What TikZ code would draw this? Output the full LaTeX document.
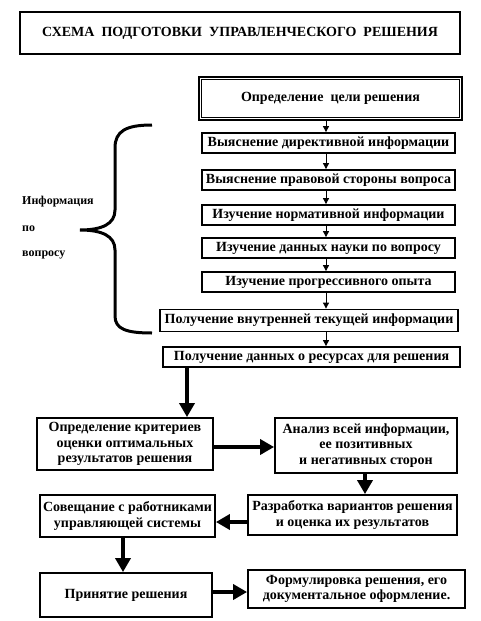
\documentclass[tikz,border=0pt]{standalone}
\usepackage{fontspec}
\setmainfont{Liberation Serif}
\usetikzlibrary{arrows.meta}
\begin{document}
\begin{tikzpicture}[x=1pt,y=-1pt,
  box/.style={draw,line width=1.8pt,inner sep=0pt,align=center,font=\fontsize{14}{15.3}\selectfont\bfseries},
  thin/.style={line width=0.9pt,-{Triangle[length=6pt,width=6pt]}},
  thick/.style={line width=4pt,-{Triangle[length=14pt,width=15pt]}},
  lbl/.style={font=\fontsize{12}{13}\selectfont\bfseries,anchor=west,inner sep=0pt}]
\useasboundingbox[fill=white] (0,0) rectangle (481,621);
% title
\node[draw,line width=2.4pt,minimum width=440pt,minimum height=42pt,inner sep=0pt,
  font=\fontsize{14}{16}\selectfont\bfseries] (title) at (240,33) {СХЕМА\ \ ПОДГОТОВКИ\ \ УПРАВЛЕНЧЕСКОГО\ \ РЕШЕНИЯ};
% goal box (double frame)
\node[box,line width=2pt,minimum width=263pt,minimum height=43pt] (b1) at (330.5,98.5) {Определение\ \ цели решения};
\draw[line width=0.9pt] ([xshift=3.5pt,yshift=-3.5pt]b1.north west) rectangle ([xshift=-3.5pt,yshift=3.5pt]b1.south east);
% column of info boxes
\node[box,minimum width=253pt,minimum height=20pt] (b2) at (328.5,143) {Выяснение директивной информации};
\node[box,minimum width=253pt,minimum height=20pt] (b3) at (328.5,180) {Выяснение правовой стороны вопроса};
\node[box,minimum width=253pt,minimum height=20pt] (b4) at (328.5,215) {Изучение нормативной информации};
\node[box,minimum width=253pt,minimum height=20pt] (b5) at (328.5,248) {Изучение данных науки по вопросу};
\node[box,minimum width=253pt,minimum height=20pt] (b6) at (328.5,282) {Изучение прогрессивного опыта};
\node[box,minimum width=298pt,minimum height=22pt] (b7) at (309,320.5) {Получение внутренней текущей информации};
\node[box,minimum width=297pt,minimum height=20pt] (b8) at (311.5,357) {Получение данных о ресурсах для решения};
\coordinate (ax) at (326,0);
\draw[thin] (b1.south -| ax) -- (b2.north -| ax);
\draw[thin] (b2.south -| ax) -- (b3.north -| ax);
\draw[thin] (b3.south -| ax) -- (b4.north -| ax);
\draw[thin] (b4.south -| ax) -- (b5.north -| ax);
\draw[thin] (b5.south -| ax) -- (b6.north -| ax);
\draw[thin] (b6.south -| ax) -- (b7.north -| ax);
\draw[thin] (b7.south -| ax) -- (b8.north -| ax);
% brace
\draw[line width=3pt] (152,125) .. controls (126,125) and (115,131) .. (115,148) -- (115,210)
  .. controls (115,224) and (102,230) .. (80,230)
  .. controls (102,230) and (115,236) .. (115,250) -- (115,316)
  .. controls (115,329) and (126,333) .. (152,333);
\node[lbl] (l1) at (22,202) {Информация};
\node[lbl] (l2) at (22,229) {по};
\node[lbl] (l3) at (22,255) {вопросу};
% lower boxes
\node[box,minimum width=176pt,minimum height=52pt] (b9) at (125,444) {Определение критериев\\оценки оптимальных\\результатов решения};
\node[box,minimum width=182pt,minimum height=55pt] (b10) at (366,445.5) {Анализ всей информации,\\ее позитивных\\и негативных сторон};
\node[box,minimum width=209pt,minimum height=40pt] (b11) at (352.5,515) {Разработка вариантов решения\\и оценка их результатов};
\node[box,minimum width=175pt,minimum height=42pt] (b12) at (127.5,516) {Совещание с работниками\\управляющей системы};
\node[box,minimum width=172pt,minimum height=44pt] (b13) at (126,595) {Принятие решения};
\node[box,minimum width=217pt,minimum height=38pt] (b14) at (356.5,589) {Формулировка решения, его\\документальное оформление.};
\coordinate (c1) at (187,0);
\coordinate (c2) at (0,447);
\coordinate (c3) at (365,0);
\coordinate (c4) at (0,522);
\coordinate (c5) at (123,0);
\coordinate (c6) at (0,592);
\draw[thick] (b8.south -| c1) -- (b9.north -| c1);
\draw[thick] (b9.east |- c2) -- (b10.west |- c2);
\draw[thick] (b10.south -| c3) -- (b11.north -| c3);
\draw[thick] (b11.west |- c4) -- (b12.east |- c4);
\draw[thick] (b12.south -| c5) -- (b13.north -| c5);
\draw[thick] (b13.east |- c6) -- (b14.west |- c6);
\end{tikzpicture}
\end{document}
